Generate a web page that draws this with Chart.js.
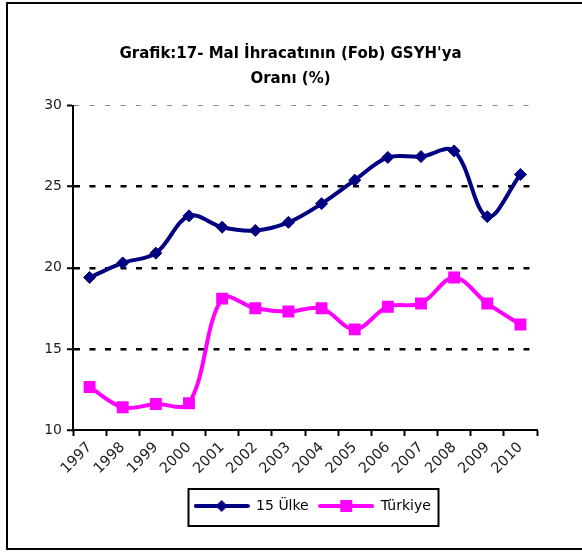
<!DOCTYPE html>
<html>
<head>
<meta charset="utf-8">
<script src="https://cdn.jsdelivr.net/npm/chart.js@4/dist/chart.umd.min.js"></script>
<style>
  html, body { margin: 0; padding: 0; background: #fff; }
  #wrap { width: 582px; height: 552px; }
</style>
</head>
<body>
<div id="wrap"><canvas id="chart" width="582" height="552"></canvas></div>
<script>
// Data
const years = ['1997', '1998', '1999', '2000', '2001', '2002', '2003',
               '2004', '2005', '2006', '2007', '2008', '2009', '2010'];
const ulke15 = [19.4, 20.3, 20.9, 23.2, 22.5, 22.3, 22.8, 23.95, 25.4, 26.8, 26.85, 27.2, 23.15, 25.75];
const turkiye = [12.65, 11.4, 11.6, 11.65, 18.1, 17.5, 17.3, 17.5, 16.2, 17.6, 17.8, 19.4, 17.8, 16.5];
const yTicks = [10, 15, 20, 25, 30];

const NAVY = '#000080';
const PINK = '#ff00ff';
const FONT = "'DejaVu Sans', sans-serif";

// small canvas used as legend symbol: line with marker in the middle
function legendIcon(color, marker) {
  const c = document.createElement('canvas');
  c.width = 56;
  c.height = 14;
  const g = c.getContext('2d');
  g.strokeStyle = color;
  g.fillStyle = color;
  g.lineWidth = 4;
  g.lineCap = 'round';
  g.beginPath();
  g.moveTo(2, 7);
  g.lineTo(54, 7);
  g.stroke();
  g.beginPath();
  if (marker === 'diamond') {
    g.moveTo(28, 1); g.lineTo(34, 7); g.lineTo(28, 13); g.lineTo(22, 7);
  } else {
    g.rect(22, 1, 12, 12);
  }
  g.closePath();
  g.fill();
  return c;
}
const icons = [legendIcon(NAVY, 'diamond'), legendIcon(PINK, 'square')];

// outer frame + box around the legend, and centring of title / legend
const framePlugin = {
  id: 'frame',
  afterLayout(chart) {
    const lg = chart.legend;
    lg.left += 39;
    lg.right += 39;
    const tb = chart.titleBlock;
    tb.left += 17;
    tb.right += 17;
  },
  beforeDraw(chart) {
    const ctx = chart.ctx;
    ctx.save();
    ctx.fillStyle = '#fff';
    ctx.fillRect(0, 0, chart.width, chart.height);
    ctx.strokeStyle = '#000';
    ctx.lineWidth = 2;
    ctx.strokeRect(7, 3, 620, 546);
    ctx.restore();
  },
  afterDraw(chart) {
    const boxes = chart.legend.legendHitBoxes;
    if (!boxes || !boxes.length) return;
    let l = Infinity, r = -Infinity, t = Infinity, b = -Infinity;
    boxes.forEach(h => {
      l = Math.min(l, h.left);
      r = Math.max(r, h.left + h.width);
      t = Math.min(t, h.top);
      b = Math.max(b, h.top + h.height);
    });
    const ctx = chart.ctx;
    ctx.save();
    ctx.strokeStyle = '#000';
    ctx.lineWidth = 2;
    ctx.strokeRect(Math.round(l - 6) + 0.5, Math.round(t - 10), Math.round(r - l + 13), Math.round(b - t + 23));
    ctx.restore();
  }
};

new Chart(document.getElementById('chart'), {
  type: 'line',
  data: {
    labels: years,
    datasets: [{
      label: '15 Ülke',
      data: ulke15,
      borderColor: NAVY,
      backgroundColor: NAVY,
      borderWidth: 4,
      pointStyle: 'rectRot',
      pointRadius: 6,
      pointBorderWidth: 1,
      tension: 0.35
    }, {
      label: 'Türkiye',
      data: turkiye,
      borderColor: PINK,
      backgroundColor: PINK,
      borderWidth: 4,
      pointStyle: 'rect',
      pointRadius: 7,
      pointBorderWidth: 2,
      tension: 0.35
    }]
  },
  options: {
    responsive: false,
    animation: false,
    events: [],
    layout: {
      padding: { left: 10, right: 45, top: 0, bottom: 29 }
    },
    plugins: {
      title: {
        display: true,
        text: ["Grafik:17- Mal İhracatının (Fob) GSYH'ya", 'Oranı (%)'],
        color: '#000',
        font: { family: FONT, size: 15, weight: 'bold', lineHeight: 1.65 },
        padding: { top: 42, bottom: 14 }
      },
      legend: {
        position: 'bottom',
        labels: {
          color: '#000',
          font: { family: FONT, size: 14 },
          usePointStyle: true,
          pointStyleWidth: 55,
          padding: 10,
          generateLabels(chart) {
            return chart.data.datasets.map((ds, i) => ({
              text: ds.label,
              pointStyle: icons[i],
              fillStyle: ds.borderColor,
              strokeStyle: ds.borderColor,
              lineWidth: 0,
              fontColor: '#000',
              datasetIndex: i
            }));
          }
        }
      },
      tooltip: { enabled: false }
    },
    scales: {
      x: {
        offset: true,
        grid: {
          offset: true,
          drawOnChartArea: false,
          tickLength: 6,
          tickColor: '#000',
          tickWidth: 2
        },
        border: { color: '#000', width: 2 },
        ticks: {
          color: '#222',
          font: { family: FONT, size: 14.5 },
          maxRotation: 45,
          minRotation: 45,
          padding: 3
        },
        afterFit(scale) { scale.height = 59; }
      },
      y: {
        min: 10,
        max: 30,
        afterBuildTicks(scale) {
          scale.ticks = yTicks.map(v => ({ value: v }));
        },
        grid: {
          color: ctx => ctx.tick && ctx.tick.value === 30 ? '#8c8c8c' : (ctx.tick && ctx.tick.value === 10 ? 'rgba(0,0,0,0)' : '#000'),
          lineWidth: ctx => ctx.tick && ctx.tick.value === 30 ? 1 : 2.5,
          tickLength: 6,
          tickColor: '#000',
          tickWidth: 2,
          tickBorderDash: []
        },
        border: {
          color: '#000',
          width: 2,
          dash: ctx => ctx.tick && ctx.tick.value === 30 ? [5, 10.5] : [6, 9.5]
        },
        ticks: {
          color: '#222',
          font: { family: FONT, size: 14 },
          padding: 5
        },
        afterFit(scale) { scale.width = 63; }
      }
    }
  },
  plugins: [framePlugin]
});
</script>
</body>
</html>
